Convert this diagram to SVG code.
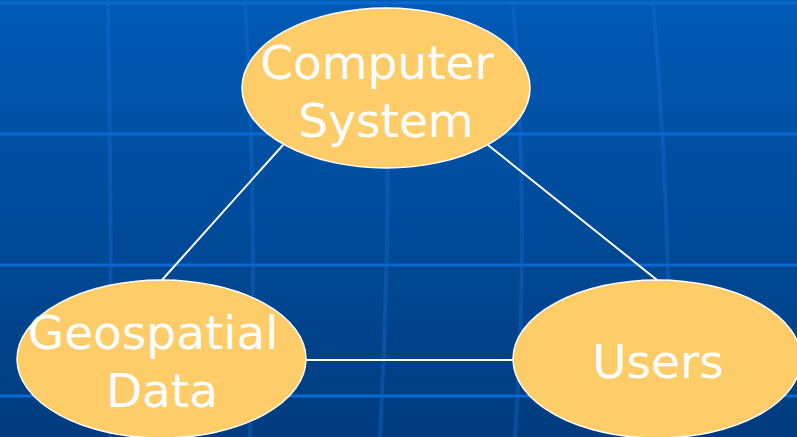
<svg xmlns="http://www.w3.org/2000/svg" width="797" height="437" viewBox="0 0 797 437">
  <defs>
    <linearGradient id="bg" x1="0" y1="0" x2="0" y2="1">
      <stop offset="0" stop-color="#005ab6"/>
      <stop offset="1" stop-color="#003c7e"/>
    </linearGradient>
  </defs>
  <style>
    .hgrid { fill: none; stroke: #0a68d0; stroke-width: 3; }
    .vgrid { fill: none; stroke: #1a70d8; stroke-width: 4; stroke-opacity: 0.35; }
    .node ellipse { fill: #ffcc6a; stroke: #ffffff; stroke-width: 1.5; }
    .node text { fill: #ffffff; font-family: "DejaVu Sans", "Liberation Sans", sans-serif; font-size: 47px; text-anchor: middle; }
    .edge { stroke: #ffffff; stroke-width: 2; fill: none; }
  </style>

  <!-- backdrop with faint grid -->
  <rect x="0" y="0" width="797" height="437" fill="url(#bg)"/>
  <g class="vgrid">
    <path d="M108 0 Q112 220 110 437"/>
    <path d="M245 0 Q258 220 250 437"/>
    <path d="M385 0 Q392 220 380 437"/>
    <path d="M513 0 Q530 220 515 437"/>
    <path d="M653 0 Q673 250 668 437"/>
  </g>
  <g class="hgrid">
    <line x1="0" y1="3" x2="797" y2="3"/>
    <line x1="0" y1="134" x2="797" y2="134"/>
    <line x1="0" y1="265" x2="797" y2="265"/>
    <line x1="0" y1="396" x2="797" y2="396"/>
  </g>

  <!-- connectors -->
  <g id="connectors">
    <line class="edge" x1="283" y1="145" x2="162" y2="280"/>
    <line class="edge" x1="488" y1="145" x2="657" y2="280"/>
    <line class="edge" x1="306" y1="360" x2="513" y2="360"/>
  </g>

  <g id="computer-system" class="node">
    <ellipse cx="386" cy="88" rx="144" ry="80"/>
    <text x="377" y="79">Computer</text>
    <text x="386" y="137">System</text>
  </g>

  <g id="geospatial-data" class="node">
    <ellipse cx="161.5" cy="359" rx="144.5" ry="79"/>
    <text x="153" y="349">Geospatial</text>
    <text x="162" y="407">Data</text>
  </g>

  <g id="users" class="node">
    <ellipse cx="657" cy="359" rx="144" ry="79"/>
    <text x="658" y="378">Users</text>
  </g>
</svg>
